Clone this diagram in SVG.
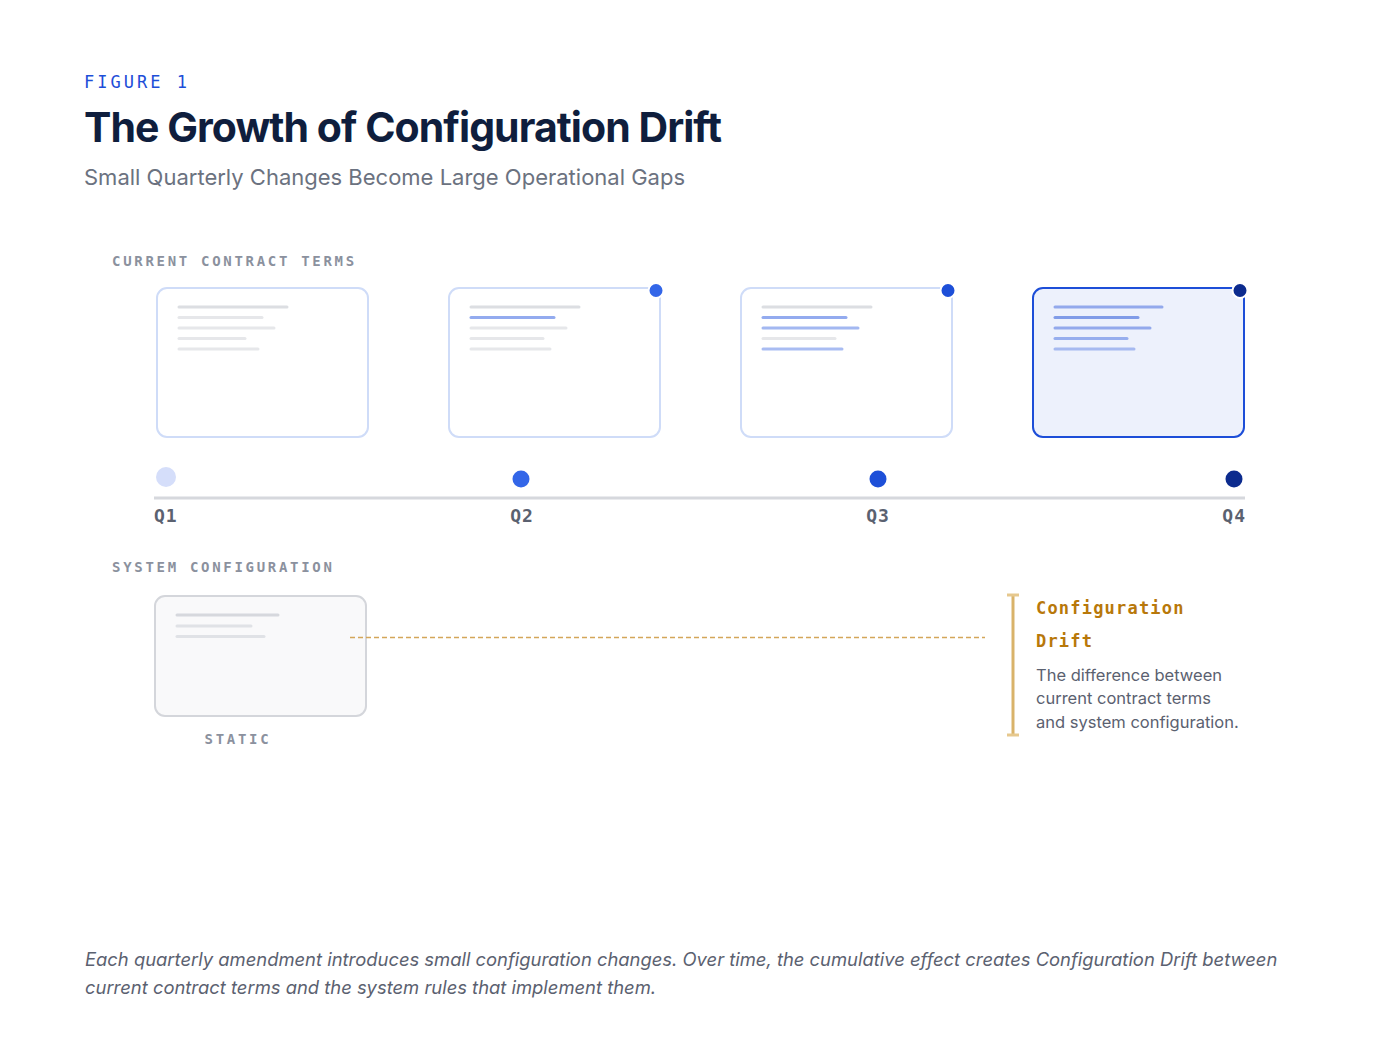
<svg xmlns="http://www.w3.org/2000/svg" width="1400" height="1050" viewBox="0 0 1400 1050">
<style>
.sans{font-family:Inter,"Noto Sans","Liberation Sans",sans-serif}
.mono{font-family:"DejaVu Sans Mono","Liberation Mono",monospace}
.sec{font-size:14px;letter-spacing:2.7px;fill:#8b919e;font-weight:bold}
.q{font-size:18px;font-weight:bold;fill:#5b6170;letter-spacing:1px}
.card{fill:#ffffff;stroke:#cfdcf8;stroke-width:2}
.ln{stroke-width:3;stroke-linecap:round;fill:none}
.g1{stroke:#dcdee2}
.g2{stroke:#e6e7ea}
.b{stroke:#93abef}
.cdot{stroke:#ffffff;stroke-width:2}
.desc{font-size:16.5px;fill:#5b6170}
</style>
<rect width="1400" height="1050" fill="#ffffff"/>

<g id="header">
<text class="mono" x="84" y="88" font-size="17" letter-spacing="3" fill="#1d4ed8">FIGURE 1</text>
<text class="sans" x="84" y="142" font-size="41" font-weight="bold" fill="#0f1e3d" letter-spacing="-0.95">The Growth of Configuration Drift</text>
<text class="sans" x="84" y="185" font-size="22" fill="#6b7280">Small Quarterly Changes Become Large Operational Gaps</text>
</g>

<text class="mono sec" x="112" y="266">CURRENT CONTRACT TERMS</text>

<g id="card-q1">
<rect class="card" x="157" y="288" width="211" height="149" rx="10"/>
<line class="ln g1" x1="179" y1="307" x2="287" y2="307"/>
<line class="ln g2" x1="179" y1="317.5" x2="262" y2="317.5"/>
<line class="ln g2" x1="179" y1="328" x2="274" y2="328"/>
<line class="ln g2" x1="179" y1="338.5" x2="245" y2="338.5"/>
<line class="ln g2" x1="179" y1="349" x2="258" y2="349"/>
</g>

<g id="card-q2">
<rect class="card" x="449" y="288" width="211" height="149" rx="10"/>
<line class="ln g1" x1="471" y1="307" x2="579" y2="307"/>
<line class="ln b" x1="471" y1="317.5" x2="554" y2="317.5"/>
<line class="ln g2" x1="471" y1="328" x2="566" y2="328"/>
<line class="ln g2" x1="471" y1="338.5" x2="543" y2="338.5"/>
<line class="ln g2" x1="471" y1="349" x2="550" y2="349"/>
<circle class="cdot" cx="656" cy="290.5" r="7.5" fill="#3366e8"/>
</g>

<g id="card-q3">
<rect class="card" x="741" y="288" width="211" height="149" rx="10"/>
<line class="ln g1" x1="763" y1="307" x2="871" y2="307"/>
<line class="ln b" x1="763" y1="317.5" x2="846" y2="317.5"/>
<line class="ln b" x1="763" y1="328" x2="858" y2="328" stroke-opacity="0.85"/>
<line class="ln g2" x1="763" y1="338.5" x2="835" y2="338.5" stroke="#eceef0"/>
<line class="ln b" x1="763" y1="349" x2="842" y2="349" stroke-opacity="0.8"/>
<circle class="cdot" cx="948" cy="290.5" r="7.5" fill="#1d4fd8"/>
</g>

<g id="card-q4">
<rect x="1033" y="288" width="211" height="149" rx="10" fill="#edf1fc" stroke="#1d4ed8" stroke-width="2"/>
<line class="ln" stroke="#93a9ec" x1="1055" y1="307" x2="1162" y2="307"/>
<line class="ln" stroke="#819ce8" x1="1055" y1="317.5" x2="1138" y2="317.5"/>
<line class="ln" stroke="#93a9ec" x1="1055" y1="328" x2="1150" y2="328"/>
<line class="ln" stroke="#97aeee" x1="1055" y1="338.5" x2="1127" y2="338.5"/>
<line class="ln" stroke="#a6b9f0" x1="1055" y1="349" x2="1134" y2="349"/>
<circle class="cdot" cx="1240" cy="290.5" r="7.5" fill="#0c2b8e"/>
</g>

<g id="timeline">
<line x1="154" y1="498" x2="1245" y2="498" stroke="#d6d8dd" stroke-width="3"/>
<circle cx="166" cy="477" r="10" fill="#d5defa"/>
<circle cx="521" cy="479" r="8.5" fill="#3366e8"/>
<circle cx="878" cy="479" r="8.5" fill="#1d4fd8"/>
<circle cx="1234" cy="479" r="8.5" fill="#0c2b8e"/>
<text class="mono q" x="154" y="522">Q1</text>
<text class="mono q" x="522" y="522" text-anchor="middle">Q2</text>
<text class="mono q" x="878" y="522" text-anchor="middle">Q3</text>
<text class="mono q" x="1246" y="522" text-anchor="end" fill="#0f1e3d">Q4</text>
</g>

<text class="mono sec" x="112" y="572">SYSTEM CONFIGURATION</text>

<g id="system-config">
<rect x="155" y="596" width="211" height="120" rx="10" fill="#f9f9fa" stroke="#d4d6db" stroke-width="2"/>
<line class="ln" stroke="#d6d8dd" x1="177" y1="615" x2="278" y2="615"/>
<line class="ln" stroke="#e0e2e6" x1="177" y1="626" x2="251" y2="626"/>
<line class="ln" stroke="#e0e2e6" x1="177" y1="636.5" x2="264" y2="636.5"/>
<text class="mono sec" x="238" y="744" text-anchor="middle" letter-spacing="2.4">STATIC</text>
</g>

<g id="connectors">
<line x1="350" y1="637.5" x2="985" y2="637.5" stroke="#d4a65a" stroke-width="1.5" stroke-dasharray="5 3"/>
</g>

<g id="drift">
<line x1="1013" y1="595" x2="1013" y2="736" stroke="#d9b36a" stroke-width="3"/>
<line x1="1007" y1="595" x2="1019" y2="595" stroke="#e6c88e" stroke-width="3"/>
<line x1="1007" y1="735" x2="1019" y2="735" stroke="#e6c88e" stroke-width="3"/>
<text class="mono" x="1036" y="614" font-size="17" font-weight="bold" letter-spacing="1.2" fill="#b8780a">Configuration</text>
<text class="mono" x="1036" y="647" font-size="17" font-weight="bold" letter-spacing="1.2" fill="#b8780a">Drift</text>
<text class="sans desc" x="1036" y="681">The difference between</text>
<text class="sans desc" x="1036" y="704">current contract terms</text>
<text class="sans desc" x="1036" y="728">and system configuration.</text>
</g>

<g id="footer">
<text class="sans" x="85" y="966" font-size="18.4" font-style="italic" fill="#5b6170">Each quarterly amendment introduces small configuration changes. Over time, the cumulative effect creates Configuration Drift between</text>
<text class="sans" x="85" y="994" font-size="18.4" font-style="italic" fill="#5b6170">current contract terms and the system rules that implement them.</text>
</g>
</svg>
